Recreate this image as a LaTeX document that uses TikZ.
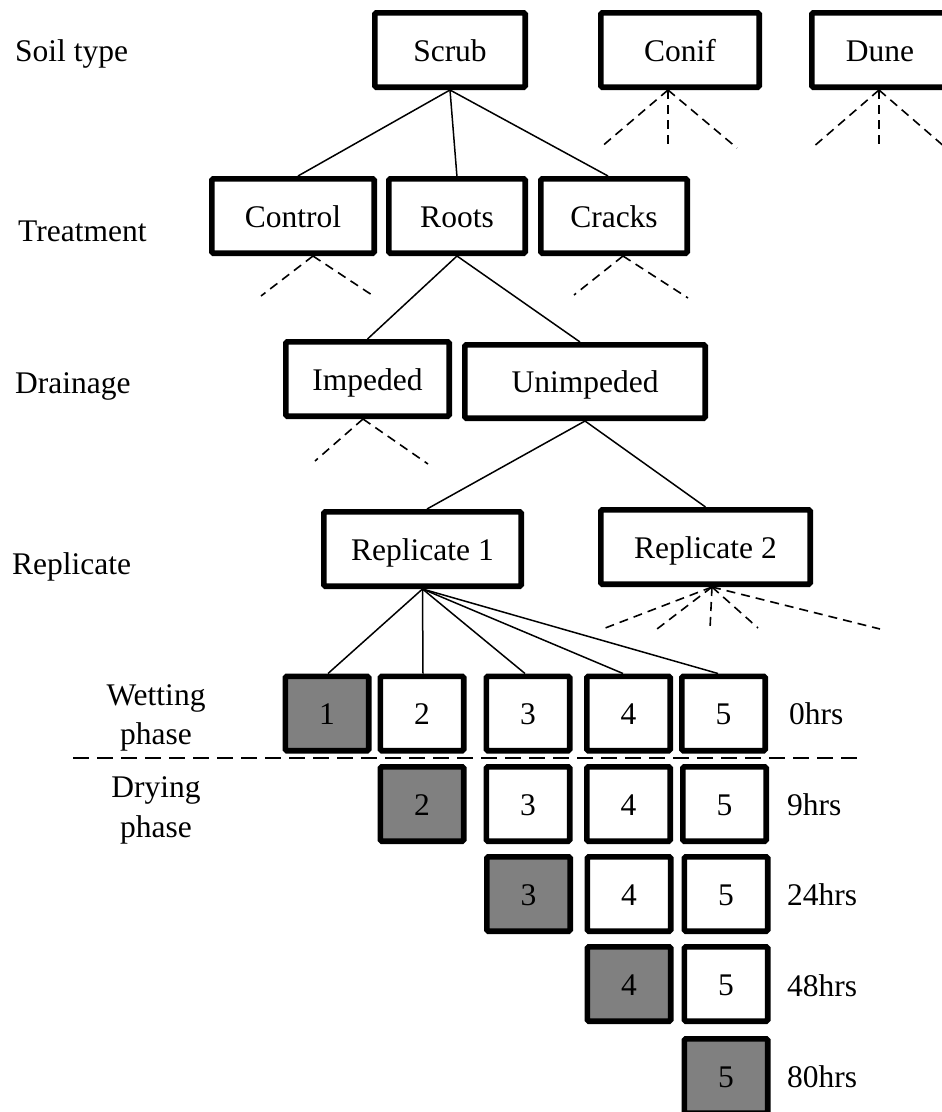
\documentclass[tikz,border=0pt]{standalone}
\usepackage{fontspec}
\setmainfont{Liberation Serif}
\definecolor{shade}{HTML}{808080}
\begin{document}
\begin{tikzpicture}[x=1pt,y=-1pt,
  txt/.style={font=\fontsize{31.5}{39.5}\selectfont},
  box/.style={txt, draw, line width=5.7pt, rounded corners=1.5pt, inner sep=0pt,
    minimum height=74.3pt, text height=22pt, text depth=0pt, fill=white},
  num/.style={box, minimum width=83.3pt},
  dark/.style={fill=shade},
  lab/.style={txt, anchor=base west, inner sep=0pt},
  clab/.style={txt, anchor=base, inner sep=0pt},
  edge/.style={line width=1.5pt},
  dedge/.style={line width=1.6pt, dash pattern=on 9pt off 6pt},
  sepline/.style={line width=1.8pt, dash pattern=on 16pt off 8pt}
]
\useasboundingbox (0,0) rectangle (942,1112);

% left labels
\node[lab] (lsoil) at (15,61) {Soil type};
\node[lab] (ltreat) at (18,241) {Treatment};
\node[lab] (ldrain) at (15,393) {Drainage};
\node[lab] (lrep) at (12,574) {Replicate};
\node[clab] (lwet1) at (156,705) {Wetting};
\node[clab] (lwet2) at (156,744) {phase};
\node[clab] (ldry1) at (156,797) {Drying};
\node[clab] (ldry2) at (156,837) {phase};

% separator
\coordinate (sepL) at (73,758);
\coordinate (sepR) at (858,758);
\draw[sepline] (sepL) -- (sepR);

% tree boxes
\node[box, minimum width=150.3pt] (scrub) at (450,50) {Scrub};
\node[box, minimum width=158.3pt] (conif) at (680,50) {Conif};
\node[box, minimum width=136.3pt] (dune) at (880,50) {Dune};
\node[box, minimum width=162.3pt] (control) at (293,216) {Control};
\node[box, minimum width=136.3pt] (roots) at (457,216) {Roots};
\node[box, minimum width=146.3pt] (cracks) at (614,216) {Cracks};
\node[box, minimum width=163.3pt] (impeded) at (367.5,379) {Impeded};
\node[box, minimum width=240.3pt, minimum height=73.3pt] (unimpeded) at (585,381.5) {Unimpeded};
\node[box, minimum width=197.3pt] (rep1) at (422.5,549) {Replicate 1};
\node[box, minimum width=209.3pt] (rep2) at (705.5,547) {Replicate 2};

% sample boxes, 0hrs
\node[num, dark] (w1) at (327,713.5) {1};
\node[num] (w2) at (422,713.5) {2};
\node[num] (w3) at (528,713.5) {3};
\node[num] (w4) at (628.5,713.5) {4};
\node[num] (w5) at (723.5,713.5) {5};
% 9hrs
\node[num, dark] (a2) at (422,804) {2};
\node[num] (a3) at (528,804) {3};
\node[num] (a4) at (628.5,804) {4};
\node[num] (a5) at (724.5,804) {5};
% 24hrs
\node[num, dark] (b3) at (528.5,894) {3};
\node[num] (b4) at (629,894) {4};
\node[num] (b5) at (726,894) {5};
% 48hrs
\node[num, dark] (c4) at (629,984) {4};
\node[num] (c5) at (726,984) {5};
% 80hrs
\node[num, dark] (e5) at (726,1076) {5};

% time labels
\node[lab] (t0) at (789,724) {0hrs};
\node[lab] (t9) at (787,815) {9hrs};
\node[lab] (t24) at (787,905) {24hrs};
\node[lab] (t48) at (787,996) {48hrs};
\node[lab] (t80) at (787,1087) {80hrs};

% solid tree connectors
\draw[edge] (scrub.south) -- ([xshift=5pt]control.north);
\draw[edge] (scrub.south) -- ([yshift=-1pt]roots.north);
\draw[edge] (scrub.south) -- ([xshift=-6pt]cracks.north);
\draw[edge] (roots.south) -- (impeded.north);
\draw[edge] (roots.south) -- ([xshift=-5pt]unimpeded.north);
\draw[edge] (unimpeded.south) -- ([xshift=4.5pt]rep1.north);
\draw[edge] (unimpeded.south) -- (rep2.north);
\draw[edge] (rep1.south) -- ([xshift=1pt]w1.north);
\draw[edge] (rep1.south) -- ([xshift=1pt]w2.north);
\draw[edge] (rep1.south) -- ([xshift=-3pt]w3.north);
\draw[edge] (rep1.south) -- ([xshift=-5.5pt]w4.north);
\draw[edge] (rep1.south) -- ([xshift=-5.5pt]w5.north);

% dashed fans
\coordinate (conifA) at ([xshift=-12pt]conif.south);
\coordinate (conif1) at (600,148);
\coordinate (conif2) at (668,148);
\coordinate (conif3) at (737,148);
\foreach \e in {conif1,conif2,conif3} \draw[dedge] (conifA) -- (\e);

\coordinate (duneA) at ([xshift=-1pt]dune.south);
\coordinate (dune1) at (812,148);
\coordinate (dune2) at (879,148);
\coordinate (dune3) at (946,148);
\foreach \e in {dune1,dune2,dune3} \draw[dedge] (duneA) -- (\e);

\coordinate (controlA) at ([xshift=20pt]control.south);
\coordinate (control1) at (261,296);
\coordinate (control2) at (375,297);
\foreach \e in {control1,control2} \draw[dedge] (controlA) -- (\e);

\coordinate (cracksA) at ([xshift=9pt]cracks.south);
\coordinate (cracks1) at (574,295);
\coordinate (cracks2) at (688,298);
\foreach \e in {cracks1,cracks2} \draw[dedge] (cracksA) -- (\e);

\coordinate (impededA) at ([xshift=-4.5pt]impeded.south);
\coordinate (impeded1) at (315,461);
\coordinate (impeded2) at (428,464);
\foreach \e in {impeded1,impeded2} \draw[dedge] (impededA) -- (\e);

\coordinate (rep2A) at ([xshift=6.5pt]rep2.south);
\coordinate (rep21) at (600,630);
\coordinate (rep22) at (657,629);
\coordinate (rep23) at (710,629);
\coordinate (rep24) at (758,628);
\coordinate (rep25) at (880,629);
\foreach \e in {rep21,rep22,rep23,rep24,rep25} \draw[dedge] (rep2A) -- (\e);
\end{tikzpicture}
\end{document}
